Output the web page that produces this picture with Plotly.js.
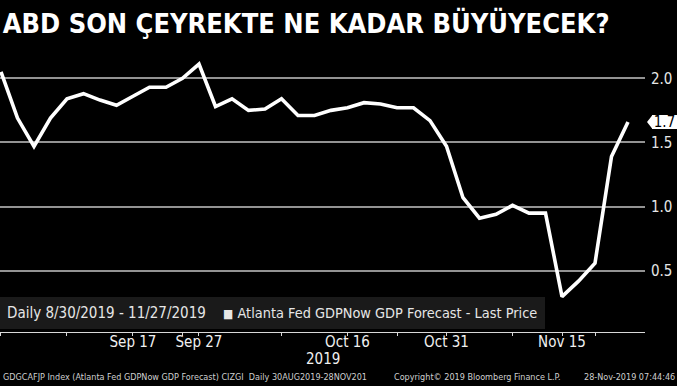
<!DOCTYPE html>
<html>
<head>
<meta charset="utf-8">
<script src="https://cdn.plot.ly/plotly-3.0.1.min.js"></script>
<style>
  html, body { margin: 0; padding: 0; background: #000; }
  #chart { width: 677px; height: 386px; }
</style>
</head>
<body>
<div id="chart"></div>
<script>
// Observation dates (category axis, one per GDPNow update)
const dates = [
  "2019-08-30","2019-09-03","2019-09-04","2019-09-05","2019-09-06","2019-09-10","2019-09-12","2019-09-16",
  "2019-09-17","2019-09-18","2019-09-19","2019-09-26","2019-09-27","2019-10-01","2019-10-02","2019-10-03",
  "2019-10-04","2019-10-08","2019-10-09","2019-10-10","2019-10-15","2019-10-16","2019-10-17","2019-10-18",
  "2019-10-24","2019-10-25","2019-10-30","2019-10-31","2019-11-01","2019-11-04","2019-11-05","2019-11-08",
  "2019-11-12","2019-11-14","2019-11-15","2019-11-19","2019-11-21","2019-11-26","2019-11-27"
];
// Atlanta Fed GDPNow GDP forecast, last price (%)
const gdpNow = [
  2.05, 1.69, 1.47, 1.69, 1.84, 1.88, 1.83, 1.79,
  1.86, 1.93, 1.93, 2.00, 2.11, 1.78, 1.84, 1.75,
  1.76, 1.84, 1.71, 1.71, 1.75, 1.77, 1.81, 1.80,
  1.77, 1.77, 1.67, 1.47, 1.07, 0.91, 0.94, 1.01,
  0.95, 0.95, 0.30, 0.42, 0.56, 1.39, 1.66
];
// Labelled x ticks
const xTickVals = ["2019-09-17","2019-09-27","2019-10-16","2019-10-31","2019-11-15"];
const xTickText = ["Sep 17","Sep 27","Oct 16","Oct 31","Nov 15"];
// Unlabelled x tick marks
const xMinorVals = ["2019-08-30","2019-09-06","2019-09-26","2019-10-08","2019-10-24","2019-11-08","2019-11-21"];
// Y ticks and range
const yTickVals = [0.5, 1.0, 1.5, 2.0];
const yRange = [0.024, 2.259];

const titleText = "ABD SON ÇEYREKTE NE KADAR BÜYÜYECEK?";
const legendRange = "Daily 8/30/2019 - 11/27/2019";
const seriesName = "Atlanta Fed GDPNow GDP Forecast - Last Price";
const footerLeft = "GDGCAFJP Index (Atlanta Fed GDPNow GDP Forecast) CIZGI\u00A0\u00A0Daily 30AUG2019-28NOV201";
const footerMid = "Copyright\u00A9 2019 Bloomberg Finance L.P.";
const footerRight = "28-Nov-2019 07:44:46";
const yearLabel = "2019";

const FONT = "DejaVu Sans Condensed, DejaVu Sans, sans-serif";
const last = gdpNow[gdpNow.length - 1];
// vertical position of the last value as a fraction of the plot height
const lastFrac = (last - yRange[0]) / (yRange[1] - yRange[0]);

const trace = {
  type: "scatter",
  mode: "lines",
  name: seriesName,
  x: dates,
  y: gdpNow,
  line: { color: "#ffffff", width: 3.6 },
  showlegend: false,
  hoverinfo: "skip"
};

const layout = {
  width: 677,
  height: 386,
  paper_bgcolor: "#000000",
  plot_bgcolor: "#000000",
  margin: { l: 0, r: 32, t: 45, b: 54, pad: 0 },
  showlegend: false,
  title: {
    text: "<b>" + titleText + "</b>",
    font: { family: FONT, size: 27, color: "#ffffff" },
    x: 0.004, xanchor: "left", xref: "container",
    y: 0.938, yanchor: "middle", yref: "container"
  },
  xaxis: {
    type: "category",
    categoryorder: "array",
    categoryarray: dates,
    range: [-0.06, 39.03],
    showgrid: false,
    zeroline: false,
    showline: true,
    linecolor: "#d8d8d8",
    linewidth: 1,
    tickmode: "array",
    tickvals: xTickVals,
    ticktext: xTickText,
    ticks: "outside",
    ticklen: 3,
    tickwidth: 1,
    tickcolor: "#d8d8d8",
    ticklabelstandoff: -7,
    tickfont: { family: FONT, size: 15, color: "#f0f0f0" },
    minor: {
      tickmode: "array",
      tickvals: xMinorVals,
      ticks: "outside",
      ticklen: 3,
      tickwidth: 1,
      tickcolor: "#d8d8d8",
      showgrid: false
    },
    fixedrange: true
  },
  yaxis: {
    side: "right",
    range: yRange,
    tickmode: "array",
    tickvals: yTickVals,
    tickformat: ".1f",
    ticks: "",
    ticklabelstandoff: 5,
    showgrid: true,
    gridcolor: "#939393",
    gridwidth: 2,
    zeroline: false,
    showline: false,
    tickfont: { family: FONT, size: 15, color: "#e6e6e6" },
    fixedrange: true
  },
  shapes: [
    {
      type: "path",
      xref: "paper", yref: "paper",
      xsizemode: "pixel", ysizemode: "pixel",
      xanchor: 1, yanchor: lastFrac,
      path: "M2,0L7.5,7L7.5,-7Z",
      fillcolor: "#ffffff",
      line: { width: 0 },
      layer: "above"
    }
  ],
  annotations: [
    {
      xref: "paper", yref: "paper", x: 1, y: lastFrac,
      xanchor: "left", yanchor: "middle", xshift: 7,
      text: last.toFixed(1),
      showarrow: false,
      width: 25,
      height: 14,
      align: "center",
      valign: "middle",
      bgcolor: "#ffffff",
      borderpad: 0,
      borderwidth: 0,
      font: { family: FONT, size: 15, color: "#000000" }
    },
    {
      xref: "paper", yref: "paper", x: 0, y: 0,
      xanchor: "left", yanchor: "bottom", yshift: 3,
      text: legendRange + "\u00A0\u00A0\u00A0\u00A0<span style=\"font-size:12px\">■</span>\u00A0<span style=\"font-size:14.4px\">" + seriesName + "</span>",
      showarrow: false,
      align: "left",
      width: 531,
      height: 18,
      bgcolor: "#1a1a1a",
      borderpad: 7,
      borderwidth: 0,
      font: { family: FONT, size: 15, color: "#e6e6e6" }
    },
    {
      xref: "paper", yref: "paper", x: 0.5, y: 0,
      xanchor: "center", yanchor: "middle", yshift: -27,
      text: yearLabel, showarrow: false,
      font: { family: FONT, size: 15, color: "#f0f0f0" }
    },
    {
      xref: "paper", yref: "paper", x: 0, y: 0,
      xanchor: "left", yanchor: "middle", xshift: 1, yshift: -45,
      text: footerLeft, showarrow: false,
      font: { family: FONT, size: 9, color: "#cfcfcf" }
    },
    {
      xref: "paper", yref: "paper", x: 392 / 645, y: 0,
      xanchor: "left", yanchor: "middle", yshift: -45,
      text: footerMid, showarrow: false,
      font: { family: FONT, size: 9, color: "#cfcfcf" }
    },
    {
      xref: "paper", yref: "paper", x: 1, y: 0,
      xanchor: "right", yanchor: "middle", xshift: 32, yshift: -45,
      text: footerRight, showarrow: false,
      font: { family: FONT, size: 9, color: "#cfcfcf" }
    }
  ]
};

Plotly.newPlot("chart", [trace], layout, { displayModeBar: false, staticPlot: true });
</script>
</body>
</html>
